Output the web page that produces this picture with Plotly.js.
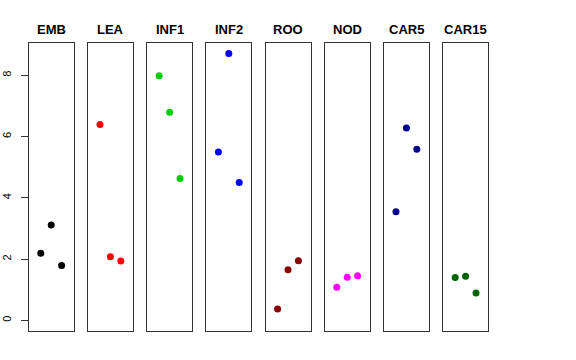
<!DOCTYPE html>
<html>
<head>
<meta charset="utf-8">
<script src="https://cdn.plot.ly/plotly-3.0.1.min.js"></script>
<style>html,body{margin:0;padding:0;background:#fff;}#chart{width:576px;height:360px;}</style>
</head>
<body>
<div id="chart"></div>
<script>
// Data
const tissues = ["EMB", "LEA", "INF1", "INF2", "ROO", "NOD", "CAR5", "CAR15"];
const colors = ["#000000", "#FF0000", "#00CD00", "#0000FF", "#8B0000", "#FF00FF", "#00008B", "#006400"];
const replicateX = [1, 2, 3];
const EMB = [2.19, 3.11, 1.79];
const LEA = [6.40, 2.08, 1.94];
const INF1 = [7.99, 6.80, 4.63];
const INF2 = [5.50, 8.72, 4.50];
const ROO = [0.37, 1.65, 1.95];
const NOD = [1.08, 1.41, 1.46];
const CAR5 = [3.55, 6.28, 5.59];
const CAR15 = [1.40, 1.44, 0.89];
const values = [EMB, LEA, INF1, INF2, ROO, NOD, CAR5, CAR15];
const yTicks = [0, 2, 4, 6, 8];

const W = 576, H = 360;
const panelLeft0 = 28.7, panelStep = 59.2, panelW = 45;
const boxTop = 42.7, boxBottom = 331;
const yMin = 0, yMax = 8.72;
const yPad = (yMax - yMin) * 0.04;

const traces = [];
const layout = {
  width: W, height: H,
  margin: {l: 0, r: 0, t: 0, b: 0, autoexpand: false},
  paper_bgcolor: "#fff", plot_bgcolor: "#fff",
  showlegend: false,
  font: {family: "Liberation Sans, Arial, sans-serif", color: "#000"},
  annotations: []
};

tissues.forEach((t, i) => {
  const n = i + 1;
  const xa = n === 1 ? "x" : "x" + n;
  const ya = n === 1 ? "y" : "y" + n;
  traces.push({
    x: replicateX, y: values[i], type: "scatter", mode: "markers",
    xaxis: xa, yaxis: ya,
    marker: {color: colors[i], size: 7},
    hoverinfo: "skip"
  });
  const x0 = (panelLeft0 + i * panelStep) / W;
  const x1 = (panelLeft0 + i * panelStep + panelW) / W;
  const yd = [1 - boxBottom / H, 1 - boxTop / H];
  const xKey = n === 1 ? "xaxis" : "xaxis" + n;
  const yKey = n === 1 ? "yaxis" : "yaxis" + n;
  layout[xKey] = {
    domain: [x0, x1], anchor: ya, range: [-0.16, 4.16],
    showgrid: false, zeroline: false, showticklabels: false, ticks: "",
    showline: true, mirror: true, linecolor: "#333", linewidth: 1, fixedrange: true
  };
  layout[yKey] = {
    domain: yd, anchor: xa, range: [yMin - yPad, yMax + yPad],
    showgrid: false, zeroline: false,
    showline: true, mirror: true, linecolor: "#333", linewidth: 1, fixedrange: true,
    tickvals: yTicks, ticktext: yTicks.map(String),
    showticklabels: n === 1, ticks: n === 1 ? "outside" : "",
    ticklen: 7, tickcolor: "#333", tickwidth: 1, tickangle: -90,
    ticklabelstandoff: 5,
    tickfont: {size: 11, color: "#000", family: "Liberation Sans, Arial, sans-serif"}
  };
  layout.annotations.push({
    text: "<b>" + t + "</b>", xref: "paper", yref: "paper",
    x: (x0 + x1) / 2, y: 1 - 29.5 / H, xanchor: "center", yanchor: "middle",
    showarrow: false, font: {size: 13, color: "#000", family: "Liberation Sans, Arial, sans-serif"}
  });
});

Plotly.newPlot("chart", traces, layout, {staticPlot: true, displayModeBar: false});
</script>
</body>
</html>
